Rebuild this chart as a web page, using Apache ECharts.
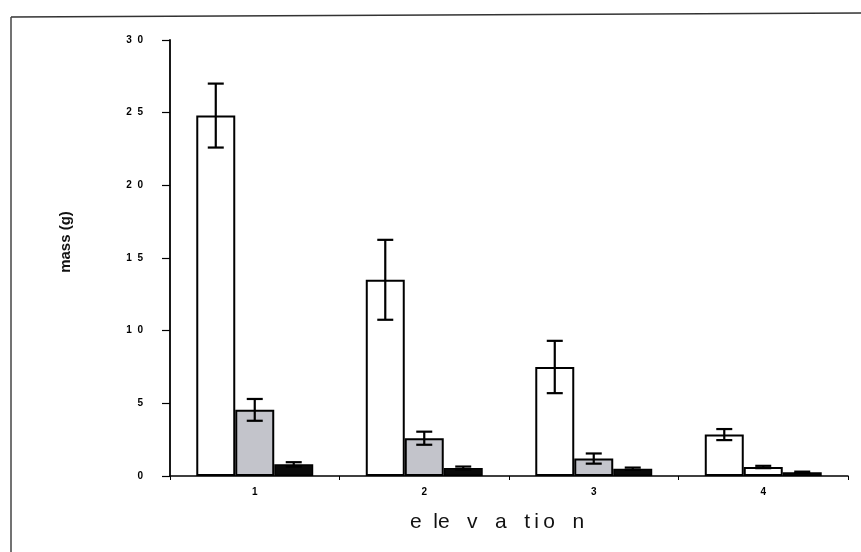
<!DOCTYPE html>
<html>
<head>
<meta charset="utf-8">
<script src="https://cdn.jsdelivr.net/npm/echarts@6/dist/echarts.min.js"></script>
<style>
  html, body { margin: 0; padding: 0; background: #fff; }
  #chart { width: 861px; height: 552px; }
</style>
</head>
<body>
<div id="chart"></div>
<script>
// Elevation classes along the x axis
const categories = ['1', '2', '3', '4'];
// Y axis tick values
const yTicks = [0, 5, 10, 15, 20, 25, 30];

// Mean mass (g) and error for each of the three components
const whiteMean = [24.8, 13.5, 7.5, 2.85];
const whiteErr  = [2.2, 2.75, 1.8, 0.38];
const grayMean  = [4.55, 2.6, 1.2, 0.62];
const grayErr   = [0.75, 0.45, 0.35, 0.08];
const blackMean = [0.8, 0.55, 0.5, 0.25];
const blackErr  = [0.15, 0.1, 0.08, 0.05];

const FONT = '"Liberation Sans", Arial, sans-serif';
const GAP = 0.31;          // fraction of a category left empty
const NBARS = 3;

const chart = echarts.init(document.getElementById('chart'), null, { renderer: 'canvas' });

// Spaced digits as in the printed axis ("1  0", "2  5" ...)
const spaced = v => String(v).split('').join('  ');

function errorSeries(name, means, errs, slot) {
  return {
    type: 'custom',
    name: name + ' error',
    z: 10,
    data: means.map((m, i) => [i, m, errs[i]]),
    renderItem: function (params, api) {
      const idx = api.value(0);
      const mean = api.value(1);
      const err = api.value(2);
      const catW = api.size([1, 0])[0];
      const barW = catW * (1 - GAP) / NBARS;
      const center = api.coord([idx, 0])[0] + (slot - (NBARS - 1) / 2) * barW;
      const top = api.coord([idx, mean + err])[1];
      const bot = api.coord([idx, mean - err])[1];
      const half = 8;
      const style = { stroke: '#000', lineWidth: 2.2 };
      return {
        type: 'group',
        children: [
          { type: 'line', shape: { x1: center, y1: top, x2: center, y2: bot }, style: style },
          { type: 'line', shape: { x1: center - half, y1: top, x2: center + half, y2: top }, style: style },
          { type: 'line', shape: { x1: center - half, y1: bot, x2: center + half, y2: bot }, style: style }
        ]
      };
    }
  };
}

const option = {
  backgroundColor: '#fff',
  animation: false,
  grid: { left: 170, right: 13, top: 40, bottom: 76, containLabel: false },
  xAxis: {
    type: 'category',
    data: categories,
    axisLine: { lineStyle: { color: '#000', width: 1.5 } },
    axisTick: { show: true, length: 4, lineStyle: { color: '#000', width: 1 } },
    axisLabel: { fontFamily: FONT, fontSize: 10, fontWeight: 'bold', color: '#000', margin: 11 },
    splitLine: { show: false }
  },
  yAxis: {
    type: 'value',
    min: yTicks[0],
    max: yTicks[yTicks.length - 1],
    interval: 5,
    axisLine: { show: true, lineStyle: { color: '#000', width: 1.8 } },
    axisTick: { show: true, length: 8, lineStyle: { color: '#000', width: 1.2 } },
    axisLabel: {
      fontFamily: FONT, fontSize: 10, fontWeight: 'bold', color: '#000', margin: 27,
      formatter: v => spaced(v)
    },
    splitLine: { show: false }
  },
  series: [
    {
      type: 'bar', name: 'white',
      data: whiteMean,
      barGap: '0%', barCategoryGap: (GAP * 100) + '%',
      itemStyle: { color: '#fff', borderColor: '#000', borderWidth: 2 }
    },
    {
      type: 'bar', name: 'gray',
      data: grayMean.map((v, i) => ({
        value: v,
        itemStyle: i === 3 ? { color: '#fff' } : undefined
      })),
      barGap: '0%', barCategoryGap: (GAP * 100) + '%',
      itemStyle: { color: '#c3c4cb', borderColor: '#000', borderWidth: 2 }
    },
    {
      type: 'bar', name: 'black',
      data: blackMean,
      barGap: '0%', barCategoryGap: (GAP * 100) + '%',
      itemStyle: { color: '#0a0a0a', borderColor: '#000', borderWidth: 1.5 }
    },
    errorSeries('white', whiteMean, whiteErr, 0),
    errorSeries('gray', grayMean, grayErr, 1),
    errorSeries('black', blackMean, blackErr, 2)
  ],
  graphic: [
    // frame lines along the top and left edges
    { type: 'line', shape: { x1: 11, y1: 17, x2: 861, y2: 13 }, style: { stroke: '#333', lineWidth: 1.5 } },
    { type: 'line', shape: { x1: 11, y1: 17, x2: 11, y2: 552 }, style: { stroke: '#444', lineWidth: 1.5 } },
    // axis titles
    {
      type: 'text', x: 66, y: 242, rotation: Math.PI / 2,
      style: {
        text: 'mass (g)', fontFamily: FONT, fontSize: 15, fontWeight: 'bold',
        fill: '#111', align: 'center', verticalAlign: 'middle'
      }
    },
    {
      type: 'text', x: 497, y: 522,
      style: {
        text: 'e  le   v   a   t\u2009i\u2009o   n', fontFamily: FONT, fontSize: 21,
        fill: '#111', align: 'center', verticalAlign: 'middle'
      }
    }
  ]
};

chart.setOption(option);
</script>
</body>
</html>
